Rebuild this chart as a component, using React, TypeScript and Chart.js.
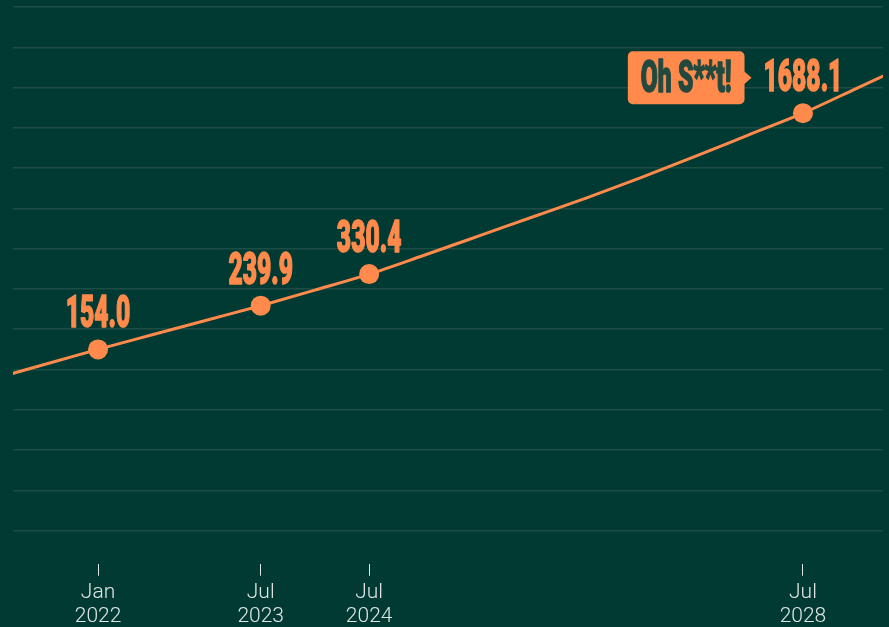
import React, { useEffect, useRef } from "react";
import { Chart, registerables } from "chart.js";

Chart.register(...registerables);

// ---- data ----
const lineDates = [2021.0, 2022.0, 2022.5, 2023.0, 2023.5, 2024.0, 2024.5, 2025.0, 2025.5, 2026.0, 2026.5, 2027.0, 2027.5, 2028.0, 2028.5, 2029.0, 2029.5];
const lineValues = [113, 154.0, 178.6, 207, 239.9, 281, 330.4, 399, 484, 588, 714, 876, 1086, 1355, 1688.1, 2177, 2811];

const markedDates = [2022.0, 2023.5, 2024.5, 2028.5];
const markedValues = [154.0, 239.9, 330.4, 1688.1];

const tickDates = [2022.0, 2023.5, 2024.5, 2028.5];
const tickMonths = ["Jan", "Jul", "Jul", "Jul"];
const tickYears = ["2022", "2023", "2024", "2028"];

const calloutText = "Oh S**t!";
const calloutIndex = 3;

const xMin = 2021.216;
const xMax = 2029.238;
const yMin = 17.55;
const yMax = 4952;
const gridCount = 14;
const gridStepDecades = 0.1773;

const BG = "#013a33";
const ORANGE = "#ff8a4b";
const GRID = "#1d4d44";
const TEXT = "#dfe6e3";
const BADGE_TEXT = "#23493f";

const LABEL_FONT = '900 44px "Roboto"';
const LABEL_SCALE_X = 0.56;

function drawCondensed(ctx: CanvasRenderingContext2D, text: string, cx: number, baseline: number, color: string) {
  ctx.save();
  ctx.font = LABEL_FONT;
  ctx.textAlign = "center";
  ctx.textBaseline = "alphabetic";
  ctx.translate(cx, baseline);
  ctx.scale(LABEL_SCALE_X, 1);
  ctx.fillStyle = color;
  ctx.strokeStyle = color;
  ctx.lineWidth = 1.5;
  ctx.lineJoin = "round";
  ctx.fillText(text, 0, 0);
  ctx.strokeText(text, 0, 0);
  ctx.restore();
}

function condensedWidth(ctx: CanvasRenderingContext2D, text: string) {
  ctx.save();
  ctx.font = LABEL_FONT;
  const w = ctx.measureText(text).width * LABEL_SCALE_X;
  ctx.restore();
  return w;
}

const labelPlugin = {
  id: "pointLabels",
  afterDatasetsDraw(chart: any) {
    const ctx: CanvasRenderingContext2D = chart.ctx;
    const meta = chart.getDatasetMeta(0);
    meta.data.forEach((pt: any, i: number) => {
      const text = markedValues[i].toFixed(1);
      const baseline = pt.y - 22;
      drawCondensed(ctx, text, pt.x, baseline, ORANGE);
      if (i === calloutIndex) {
        const w = condensedWidth(ctx, text);
        const labelLeft = pt.x - w / 2;
        const tipX = labelLeft - 12;
        const rectRight = tipX - 7;
        const bw = condensedWidth(ctx, calloutText) + 26;
        const rectLeft = rectRight - bw;
        const top = pt.y - 62;
        const bottom = pt.y - 9;
        const midY = (top + bottom) / 2;
        ctx.save();
        ctx.fillStyle = ORANGE;
        ctx.beginPath();
        (ctx as any).roundRect(rectLeft, top, bw, bottom - top, 5);
        ctx.fill();
        ctx.beginPath();
        ctx.moveTo(rectRight - 1, midY - 7);
        ctx.lineTo(tipX, midY);
        ctx.lineTo(rectRight - 1, midY + 7);
        ctx.closePath();
        ctx.fill();
        ctx.restore();
        drawCondensed(ctx, calloutText, (rectLeft + rectRight) / 2, pt.y - 21, BADGE_TEXT);
      }
    });
  },
};

export default function App() {
  const ref = useRef<HTMLCanvasElement | null>(null);

  useEffect(() => {
    document.body.style.margin = "0";
    document.body.style.background = BG;
    const canvas = ref.current;
    if (!canvas) return;
    const chart = new Chart(canvas, {
      type: "line",
      data: {
        datasets: [
          {
            data: markedDates.map((d, i) => ({ x: d, y: markedValues[i] })),
            showLine: false,
            pointRadius: 10,
            pointHoverRadius: 10,
            pointBackgroundColor: ORANGE,
            pointBorderWidth: 0,
            borderColor: ORANGE,
          },
          {
            data: lineDates.map((d, i) => ({ x: d, y: lineValues[i] })),
            borderColor: ORANGE,
            borderWidth: 3,
            pointRadius: 0,
            cubicInterpolationMode: "monotone",
            fill: false,
          },
        ],
      },
      options: {
        responsive: false,
        animation: false,
        events: [],
        layout: { autoPadding: false, padding: { left: 13, right: 6, top: 7, bottom: -7 } },
        plugins: { legend: { display: false }, tooltip: { enabled: false } },
        scales: {
          x: {
            type: "linear",
            min: xMin,
            max: xMax,
            bounds: "data",
            afterBuildTicks: (s: any) => {
              s.ticks = tickDates.map((v) => ({ value: v }));
            },
            ticks: {
              callback: (_v: any, i: number) => [tickMonths[i], tickYears[i]],
              color: TEXT,
              font: { family: "Roboto", size: 21, weight: "300", lineHeight: 1.15 },
              padding: 5,
              autoSkip: false,
              maxRotation: 0,
            },
            grid: {
              display: true,
              drawOnChartArea: false,
              drawTicks: true,
              tickLength: 12,
              tickColor: TEXT,
              tickWidth: 1,
            },
            border: { display: false },
          },
          y: {
            type: "logarithmic",
            min: yMin,
            max: yMax,
            bounds: "data",
            afterBuildTicks: (s: any) => {
              const top = Math.log10(yMax);
              const t = [];
              for (let k = gridCount - 1; k >= 0; k--) t.push({ value: Math.pow(10, top - k * gridStepDecades) });
              s.ticks = t;
            },
            ticks: { display: false },
            grid: { color: GRID, lineWidth: 1.5, drawTicks: false },
            border: { display: false },
          },
        },
      },
      plugins: [labelPlugin],
    } as any);
    return () => chart.destroy();
  }, []);

  return (
    <div style={{ position: "fixed", left: 0, top: 0, width: 889, height: 627, background: BG }}>
      <canvas ref={ref} width={889} height={627} style={{ display: "block" }} />
    </div>
  );
}
